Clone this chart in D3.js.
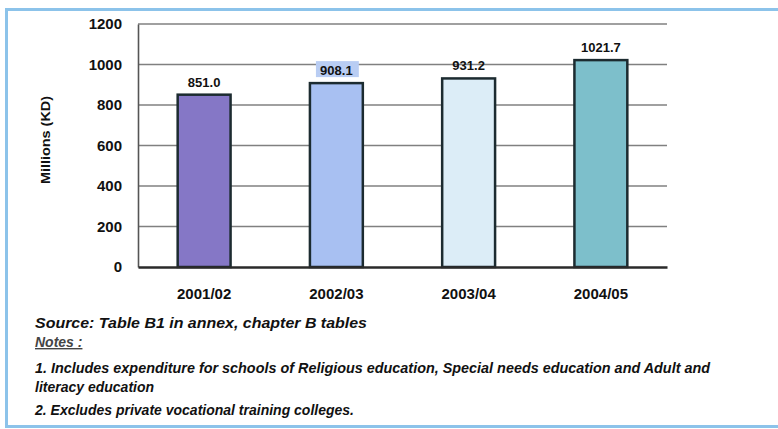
<!DOCTYPE html>
<html>
<head>
<meta charset="utf-8">
<script src="https://cdn.jsdelivr.net/npm/d3@7"></script>
<style>
  html, body { margin: 0; padding: 0; background: #ffffff; }
  svg { display: block; }
  text { font-family: "Liberation Sans", Arial, sans-serif; }
</style>
</head>
<body>
<svg id="chart" width="778" height="429"></svg>
<script>
// Education expenditure by school year (millions of KD)
const years = ["2001/02", "2002/03", "2003/04", "2004/05"];
const spending = [851.0, 908.1, 931.2, 1021.7];
const barColors = ["#8577c6", "#a8c0f2", "#dcedf7", "#7dbfcb"];
const yTicks = [0, 200, 400, 600, 800, 1000, 1200];
const yTitle = "Millions (KD)";
const notes = [
  "Source: Table B1 in annex, chapter B tables",
  "Notes :",
  "1. Includes expenditure for schools of Religious education, Special needs education and Adult and",
  "literacy education",
  "2. Excludes private vocational training colleges."
];

const svg = d3.select("#chart");

// light blue panel frame
svg.append("rect")
  .attr("x", 6.5).attr("y", 9.5)
  .attr("width", 790).attr("height", 417)
  .attr("fill", "#ffffff")
  .attr("stroke", "#8cc3ea")
  .attr("stroke-width", 3);

const plot = { left: 138, right: 667, top: 24, bottom: 267 };

const x = d3.scaleBand()
  .domain(years)
  .range([plot.left, plot.right])
  .paddingInner(0.6)
  .paddingOuter(0.3);

const y = d3.scaleLinear()
  .domain([0, 1200])
  .range([plot.bottom, plot.top]);

// horizontal gridlines
svg.append("g")
  .selectAll("line")
  .data(yTicks.filter(d => d > 0))
  .join("line")
  .attr("x1", plot.left).attr("x2", plot.right)
  .attr("y1", d => y(d)).attr("y2", d => y(d))
  .attr("stroke", "#808080")
  .attr("stroke-width", 1.6);

// y axis
const yAxis = svg.append("g")
  .attr("transform", `translate(${plot.left},0)`)
  .call(d3.axisLeft(y).tickValues(yTicks).tickFormat(d3.format("d")).tickSize(0).tickPadding(16));
yAxis.select(".domain").attr("stroke", "#555").attr("stroke-width", 1.6);
yAxis.selectAll("text")
  .attr("font-size", 15).attr("font-weight", "bold").attr("fill", "#111");

// y axis title
svg.append("text")
  .attr("transform", `translate(50,140) rotate(-90)`)
  .attr("text-anchor", "middle")
  .attr("font-size", 12)
  .attr("font-weight", "bold")
  .attr("fill", "#111")
  .attr("textLength", 88)
  .attr("lengthAdjust", "spacingAndGlyphs")
  .text(yTitle);

// bars
svg.append("g")
  .selectAll("rect")
  .data(spending)
  .join("rect")
  .attr("x", (d, i) => x(years[i]))
  .attr("y", d => y(d))
  .attr("width", x.bandwidth())
  .attr("height", d => y(0) - y(d))
  .attr("fill", (d, i) => barColors[i])
  .attr("stroke", "#1c2b30")
  .attr("stroke-width", 2.5);

// x axis baseline and labels
const xAxis = svg.append("g")
  .attr("transform", `translate(0,${plot.bottom})`)
  .call(d3.axisBottom(x).tickSize(0).tickPadding(21));
xAxis.select(".domain").attr("stroke", "#2a2a2a").attr("stroke-width", 2.5);
xAxis.selectAll("text")
  .attr("font-size", 15).attr("font-weight", "bold").attr("fill", "#111");

// value labels
const labels = svg.append("g");
labels.selectAll("rect")
  .data(spending.filter((d, i) => i === 1))
  .join("rect")
  .attr("x", x(years[1]) + 6)
  .attr("y", d => y(d) - 22)
  .attr("width", x.bandwidth() - 10)
  .attr("height", 16)
  .attr("fill", "#b9cdf3");
labels.selectAll("text")
  .data(spending)
  .join("text")
  .attr("x", (d, i) => x(years[i]) + x.bandwidth() / 2)
  .attr("y", d => y(d) - 8)
  .attr("text-anchor", "middle")
  .attr("font-size", 13)
  .attr("font-weight", "bold")
  .attr("fill", "#111")
  .text(d => d.toFixed(1));

// source and notes
const noteY = [328, 347, 373, 392, 415];
const noteWidth = [332, null, 675, null, null];
svg.append("g")
  .selectAll("text")
  .data(notes)
  .join("text")
  .attr("x", 35)
  .attr("y", (d, i) => noteY[i])
  .attr("font-size", (d, i) => i === 0 ? 15 : 14)
  .attr("font-weight", "bold")
  .attr("font-style", "italic")
  .attr("fill", (d, i) => i === 1 ? "#444" : "#111")
  .attr("text-decoration", (d, i) => i === 1 ? "underline" : null)
  .attr("textLength", (d, i) => noteWidth[i])
  .attr("lengthAdjust", "spacingAndGlyphs")
  .text(d => d);
</script>
</body>
</html>
